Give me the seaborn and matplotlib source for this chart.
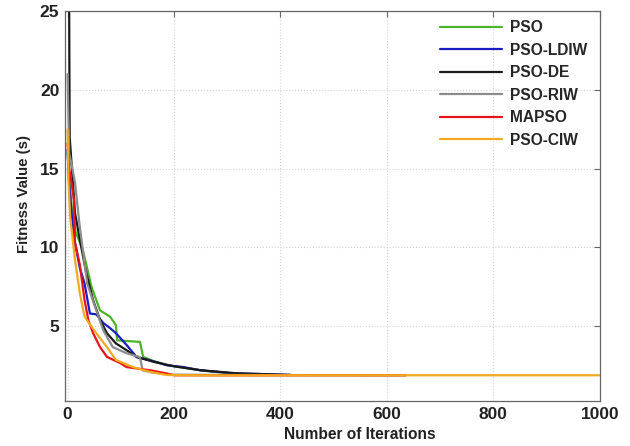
import pandas as pd
import numpy as np
import seaborn as sns
import matplotlib.pyplot as plt

# convergence curves (iteration, fitness)
pso_x = [0, 3, 8, 15, 29, 45, 61, 80, 91, 93, 136, 142, 160, 190, 220, 260, 310, 380]
pso_y = [16.0, 14.5, 12.5, 11.0, 9.8, 7.5, 6.0, 5.6, 5.06, 4.1, 4.0, 3.05, 2.8, 2.5, 2.35, 2.15, 2.0, 1.9]

ldiw_x = [0, 3, 8, 14, 23, 32, 42, 54, 67, 80, 91, 111, 130, 155, 186, 218, 249, 312, 375, 420]
ldiw_y = [16.2, 14.0, 12.0, 10.3, 8.7, 7.7, 5.8, 5.75, 5.2, 4.87, 4.55, 3.8, 3.03, 2.83, 2.52, 2.4, 2.2, 2.0, 1.95, 1.9]

de_x = [0, 3, 4, 8, 14, 23, 35, 48, 61, 74, 91, 111, 130, 160, 200, 250, 320, 420]
de_y = [25.5, 25.5, 17.0, 15.1, 12.2, 10.5, 8.4, 6.65, 5.4, 4.55, 3.9, 3.47, 3.05, 2.75, 2.45, 2.2, 2.0, 1.9]

riw_x = [0, 3, 8, 14, 23, 37, 54, 67, 85, 111, 136, 141, 160, 200, 300, 635]
riw_y = [21.0, 16.0, 15.2, 14.1, 11.3, 7.7, 6.0, 4.74, 3.67, 3.28, 3.03, 2.2, 2.05, 1.92, 1.9, 1.88]

mapso_x = [0, 3, 8, 12, 14, 23, 32, 39, 48, 61, 74, 99, 111, 155, 186, 200, 635]
mapso_y = [16.6, 15.0, 14.0, 13.0, 10.3, 8.9, 6.65, 5.4, 4.55, 3.67, 3.05, 2.65, 2.4, 2.2, 2.0, 1.88, 1.88]

ciw_x = [0, 2, 5, 14, 23, 32, 54, 74, 91, 123, 155, 186, 250, 1000]
ciw_y = [17.5, 14.0, 11.9, 9.2, 7.1, 5.6, 4.55, 3.67, 2.85, 2.4, 2.1, 1.9, 1.88, 1.88]

names = ["PSO", "PSO-LDIW", "PSO-DE", "PSO-RIW", "MAPSO", "PSO-CIW"]
xs = [pso_x, ldiw_x, de_x, riw_x, mapso_x, ciw_x]
ys = [pso_y, ldiw_y, de_y, riw_y, mapso_y, ciw_y]
colors = ["#4db32a", "#1c1cc4", "#1a1a1a", "#8c8c8c", "#e3151b", "#f2a91f"]

df = pd.concat([pd.DataFrame({"iter": x, "fit": y, "alg": n}) for n, x, y in zip(names, xs, ys)])

sns.set_style("white")
plt.rcParams["font.family"] = ["Liberation Sans", "DejaVu Sans"]
plt.rcParams["font.weight"] = "bold"

fig = plt.figure(figsize=(6.3, 4.46), dpi=100)
ax = fig.add_axes([0.103, 0.101, 0.849, 0.874])

sns.lineplot(data=df, x="iter", y="fit", hue="alg", hue_order=names,
             palette=colors, estimator=None, sort=False, linewidth=1.6, ax=ax)

ax.set_xlim(-5, 1000)
ax.set_ylim(0.25, 25)
ax.set_xticks(range(0, 1001, 200))
ax.set_yticks([5, 10, 15, 20, 25])
ax.grid(True, linestyle=":", color="#d4d4d4", linewidth=0.8)
for s in ax.spines.values():
    s.set_color("#666666")
    s.set_linewidth(0.9)
ax.tick_params(direction="in", length=4, color="#666666", top=True, right=True,
               labelsize=12.5, pad=4, labelcolor="#222222")
for lbl in ax.get_xticklabels() + ax.get_yticklabels():
    lbl.set_fontweight("bold")
ax.set_xlabel("Number of Iterations", fontsize=11.2, fontweight="bold", color="#222222")
ax.set_ylabel("Fitness Value (s)", fontsize=10.8, fontweight="bold", color="#222222")
ax.xaxis.set_label_coords(0.551, -0.068)
ax.yaxis.set_label_coords(-0.064, 0.53)

leg = ax.legend(loc="upper right", bbox_to_anchor=(1.003, 1.012), frameon=False,
                handlelength=4.0, labelspacing=0.48, handletextpad=0.5,
                prop={"weight": "bold", "size": 11.2})
for line in leg.get_lines():
    line.set_linewidth(1.6)

fig.savefig("out.png", dpi=100)
